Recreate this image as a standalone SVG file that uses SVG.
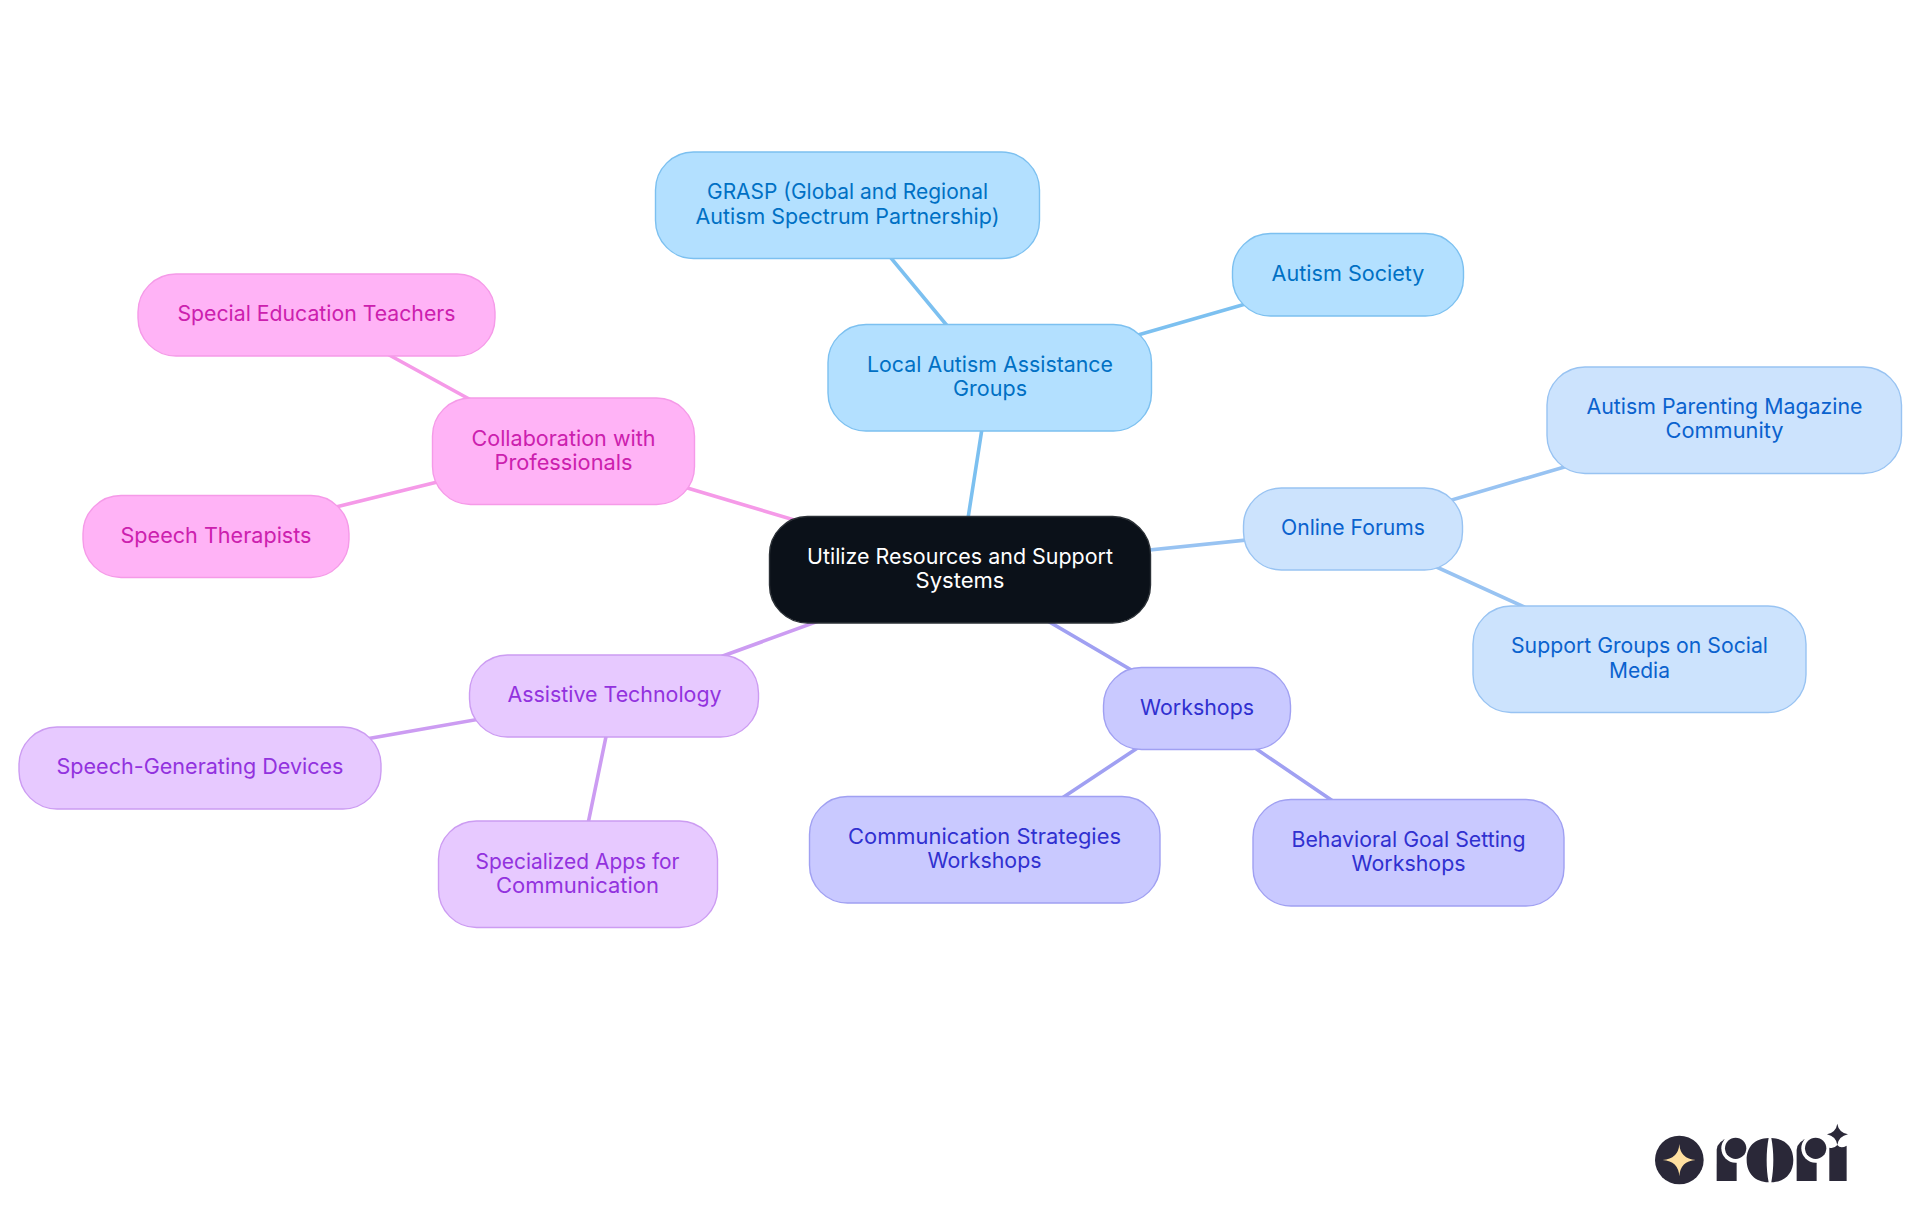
<svg xmlns="http://www.w3.org/2000/svg" width="1920" height="1215" viewBox="0 0 1920 1215">
<style>
text{font-family:"Inter","Noto Sans","Liberation Sans",sans-serif;font-size:21.6px;font-weight:400;text-anchor:middle}
rect{stroke-width:1.4}
.edges line{stroke-width:3.6;stroke-linecap:round}
.r rect{fill:#0b1119;stroke:#2b3036}.r text{fill:#fff}
.a rect{fill:#b3e0ff;stroke:#7cc0f0}.a text{fill:#0070c4}
.b rect{fill:#cce3fd;stroke:#98c3f2}.b text{fill:#0a62ce}
.c rect{fill:#c9c9ff;stroke:#a0a0f2}.c text{fill:#3030d0}
.d rect{fill:#e7c9ff;stroke:#cc9cf2}.d text{fill:#9232de}
.e rect{fill:#ffb3f6;stroke:#f59ae8}.e text{fill:#cc20ae}
.ea{stroke:#7cc0f0}.eb{stroke:#98c3f2}.ec{stroke:#a0a0f2}.ed{stroke:#cc9cf2}.ee{stroke:#f59ae8}
.ink{fill:#2a2838}
</style>
<rect width="1920" height="1215" fill="#fff" style="stroke:none"/>
<g id="connectors" class="edges">
<line class="ea" x1="960" y1="569.5" x2="990" y2="377.5"/>
<line class="ea" x1="990" y1="377.5" x2="847.5" y2="205.5"/>
<line class="ea" x1="990" y1="377.5" x2="1348" y2="274.5"/>
<line class="eb" x1="960" y1="569.5" x2="1353" y2="529"/>
<line class="eb" x1="1353" y1="529" x2="1724.5" y2="420"/>
<line class="eb" x1="1353" y1="529" x2="1639.5" y2="659.5"/>
<line class="ec" x1="960" y1="569.5" x2="1197" y2="708.5"/>
<line class="ec" x1="1197" y1="708.5" x2="984.5" y2="849.5"/>
<line class="ec" x1="1197" y1="708.5" x2="1408.5" y2="852.5"/>
<line class="ed" x1="960" y1="569.5" x2="614.5" y2="695.5"/>
<line class="ed" x1="614.5" y1="695.5" x2="200" y2="768"/>
<line class="ed" x1="614.5" y1="695.5" x2="577.5" y2="874.5"/>
<line class="ee" x1="960" y1="569.5" x2="563.5" y2="451"/>
<line class="ee" x1="563.5" y1="451" x2="316.5" y2="315"/>
<line class="ee" x1="563.5" y1="451" x2="216" y2="536.5"/>
</g>
<g id="root" class="r"><rect x="769.500" y="516.500" width="381" height="106.500" rx="38"/><text x="960" y="564" textLength="306" lengthAdjust="spacingAndGlyphs">Utilize Resources and Support</text><text x="960" y="588" textLength="89" lengthAdjust="spacingAndGlyphs">Systems</text></g>
<g id="local-groups" class="a"><rect x="828" y="324.500" width="323.500" height="106.500" rx="38"/><text x="990" y="372" textLength="246" lengthAdjust="spacingAndGlyphs">Local Autism Assistance</text><text x="990" y="396" textLength="74" lengthAdjust="spacingAndGlyphs">Groups</text></g>
<g id="grasp" class="a"><rect x="655.500" y="152" width="384" height="106.500" rx="38"/><text x="847.500" y="199" textLength="281" lengthAdjust="spacingAndGlyphs">GRASP (Global and Regional</text><text x="847.500" y="224" textLength="304" lengthAdjust="spacingAndGlyphs">Autism Spectrum Partnership)</text></g>
<g id="autism-society" class="a"><rect x="1232.500" y="233.500" width="231" height="82.500" rx="38"/><text x="1348" y="281" textLength="153" lengthAdjust="spacingAndGlyphs">Autism Society</text></g>
<g id="online-forums" class="b"><rect x="1243.500" y="488" width="219" height="82" rx="38"/><text x="1353" y="535" textLength="144" lengthAdjust="spacingAndGlyphs">Online Forums</text></g>
<g id="parenting" class="b"><rect x="1547" y="367" width="354.500" height="106.500" rx="38"/><text x="1724.500" y="414" textLength="276" lengthAdjust="spacingAndGlyphs">Autism Parenting Magazine</text><text x="1724.500" y="438" textLength="118" lengthAdjust="spacingAndGlyphs">Community</text></g>
<g id="support-groups" class="b"><rect x="1473" y="606" width="333" height="106.500" rx="38"/><text x="1639.500" y="653" textLength="257" lengthAdjust="spacingAndGlyphs">Support Groups on Social</text><text x="1639.500" y="678" textLength="61" lengthAdjust="spacingAndGlyphs">Media</text></g>
<g id="workshops" class="c"><rect x="1103.500" y="667.500" width="187" height="82" rx="38"/><text x="1197" y="715" textLength="114" lengthAdjust="spacingAndGlyphs">Workshops</text></g>
<g id="communication-workshops" class="c"><rect x="809.500" y="796.500" width="350.500" height="106.500" rx="38"/><text x="984.500" y="844" textLength="273" lengthAdjust="spacingAndGlyphs">Communication Strategies</text><text x="984.500" y="868" textLength="114" lengthAdjust="spacingAndGlyphs">Workshops</text></g>
<g id="behavioral-workshops" class="c"><rect x="1253" y="799.500" width="311" height="106.500" rx="38"/><text x="1408.500" y="847" textLength="234" lengthAdjust="spacingAndGlyphs">Behavioral Goal Setting</text><text x="1408.500" y="871" textLength="114" lengthAdjust="spacingAndGlyphs">Workshops</text></g>
<g id="assistive" class="d"><rect x="469.500" y="655" width="289" height="82" rx="38"/><text x="614.500" y="702" textLength="214" lengthAdjust="spacingAndGlyphs">Assistive Technology</text></g>
<g id="speech-devices" class="d"><rect x="19" y="727" width="362" height="82" rx="38"/><text x="200" y="774" textLength="287" lengthAdjust="spacingAndGlyphs">Speech-Generating Devices</text></g>
<g id="apps" class="d"><rect x="438.500" y="821" width="279" height="106.500" rx="38"/><text x="577.500" y="869" textLength="204" lengthAdjust="spacingAndGlyphs">Specialized Apps for</text><text x="577.500" y="893" textLength="163" lengthAdjust="spacingAndGlyphs">Communication</text></g>
<g id="collaboration" class="e"><rect x="432.500" y="398" width="262" height="106.500" rx="38"/><text x="563.500" y="446" textLength="184" lengthAdjust="spacingAndGlyphs">Collaboration with</text><text x="563.500" y="470" textLength="138" lengthAdjust="spacingAndGlyphs">Professionals</text></g>
<g id="teachers" class="e"><rect x="138" y="274" width="357" height="82" rx="38"/><text x="316.500" y="321" textLength="278" lengthAdjust="spacingAndGlyphs">Special Education Teachers</text></g>
<g id="therapists" class="e"><rect x="83" y="495.500" width="266" height="82" rx="38"/><text x="216" y="543" textLength="191" lengthAdjust="spacingAndGlyphs">Speech Therapists</text></g>
<g id="logo" transform="translate(1620 1105) scale(.3333)">
<circle class="ink" cx="178" cy="165" r="73"/>
<path fill="#ffe0a0" d="M178 117Q181 162 227 165Q181 168 178 214Q175 168 128 165Q175 162 178 117Z"/>
<path class="ink" d="M290 228V135Q292 106 330 99L350 175V228Z"/>
<circle fill="#fff" cx="347" cy="130" r="43"/>
<circle class="ink" cx="347" cy="130" r="32"/>
<path class="ink" d="M446 99C405 100 380 125 380 165C380 205 405 231 446 232C438 190 438 140 446 99Z"/>
<path class="ink" d="M454 99C495 100 520 125 520 165C520 205 495 231 454 232C462 190 462 140 454 99Z"/>
<path class="ink" d="M530 228V135Q532 106 570 99L590 175V228Z"/>
<circle fill="#fff" cx="587" cy="130" r="43"/>
<circle class="ink" cx="587" cy="130" r="32"/>
<path class="ink" d="M628 228V128Q642 132 652 120Q662 132 680 122V228Z"/>
<path class="ink" d="M652 56Q656 82 684 88Q656 94 652 120Q648 94 621 88Q648 82 652 56Z"/>
</g>
</svg>
